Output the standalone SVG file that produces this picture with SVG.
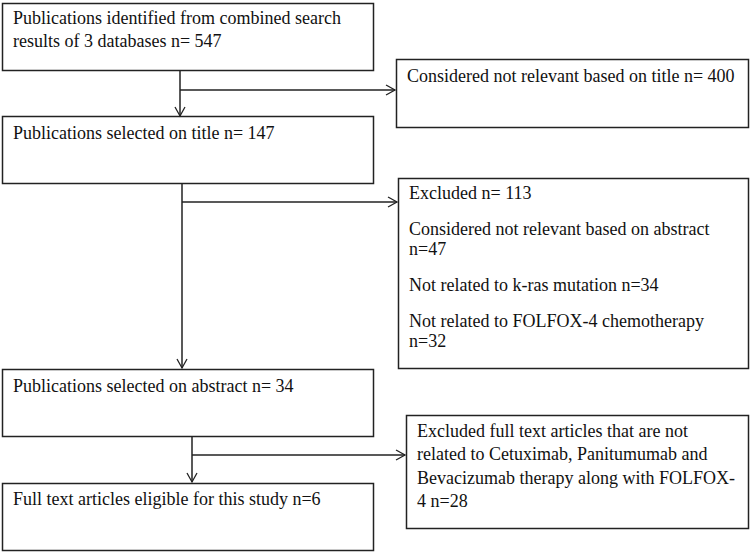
<svg xmlns="http://www.w3.org/2000/svg" width="752" height="553" viewBox="0 0 752 553">
<defs>
<marker id="arr" markerWidth="12" markerHeight="12" refX="10" refY="6" orient="auto" markerUnits="userSpaceOnUse">
<path d="M1,1 L10,6 L1,11" fill="none" stroke="#222" stroke-width="1.3"/>
</marker>
<style>
rect{fill:#fff;stroke:#222;stroke-width:1.5}
text{font-family:"Liberation Serif","Times New Roman",serif;font-size:18px;fill:#111}
.c{fill:none;stroke:#222;stroke-width:1.5}
</style>
</defs>
<rect x="0" y="0" width="752" height="553" style="stroke:none"/>
<g id="n1"><rect x="2.5" y="3.5" width="371" height="67"/>
<text x="13" y="24">Publications identified from combined search</text>
<text x="13" y="47">results of 3 databases n= 547</text></g>
<g id="n2"><rect x="396.5" y="59.5" width="352" height="68"/>
<text x="407" y="82">Considered not relevant  based on title n= 400</text></g>
<g id="n3"><rect x="2.5" y="116.5" width="371" height="67"/>
<text x="13" y="139">Publications selected on title n= 147</text></g>
<g id="n4"><rect x="398.5" y="178.5" width="350" height="190"/>
<text x="409" y="199">Excluded n= 113</text>
<text x="409" y="235">Considered not relevant  based on abstract</text>
<text x="409" y="255">n=47</text>
<text x="409" y="291">Not related to k-ras mutation n=34</text>
<text x="409" y="327">Not related to FOLFOX-4 chemotherapy</text>
<text x="409" y="347">n=32</text></g>
<g id="n5"><rect x="2.5" y="369.5" width="371" height="67"/>
<text x="13" y="392">Publications selected on abstract n= 34</text></g>
<g id="n6"><rect x="406.5" y="415.5" width="342" height="113"/>
<text x="417" y="437">Excluded full text articles that are not</text>
<text x="417" y="460">related to Cetuximab, Panitumumab and</text>
<text x="417" y="484">Bevacizumab therapy along with FOLFOX-</text>
<text x="417" y="507">4 n=28</text></g>
<g id="n7"><rect x="2.5" y="483.5" width="371" height="67"/>
<text x="13" y="505">Full text articles eligible for this study n=6</text></g>
<g id="connectors">
<path class="c" d="M180,71 V116" marker-end="url(#arr)"/>
<path class="c" d="M180,90 H395" marker-end="url(#arr)"/>
<path class="c" d="M182,184 V368" marker-end="url(#arr)"/>
<path class="c" d="M182,202 H397" marker-end="url(#arr)"/>
<path class="c" d="M192,437 V482" marker-end="url(#arr)"/>
<path class="c" d="M192,455 H405" marker-end="url(#arr)"/>
</g>
</svg>
